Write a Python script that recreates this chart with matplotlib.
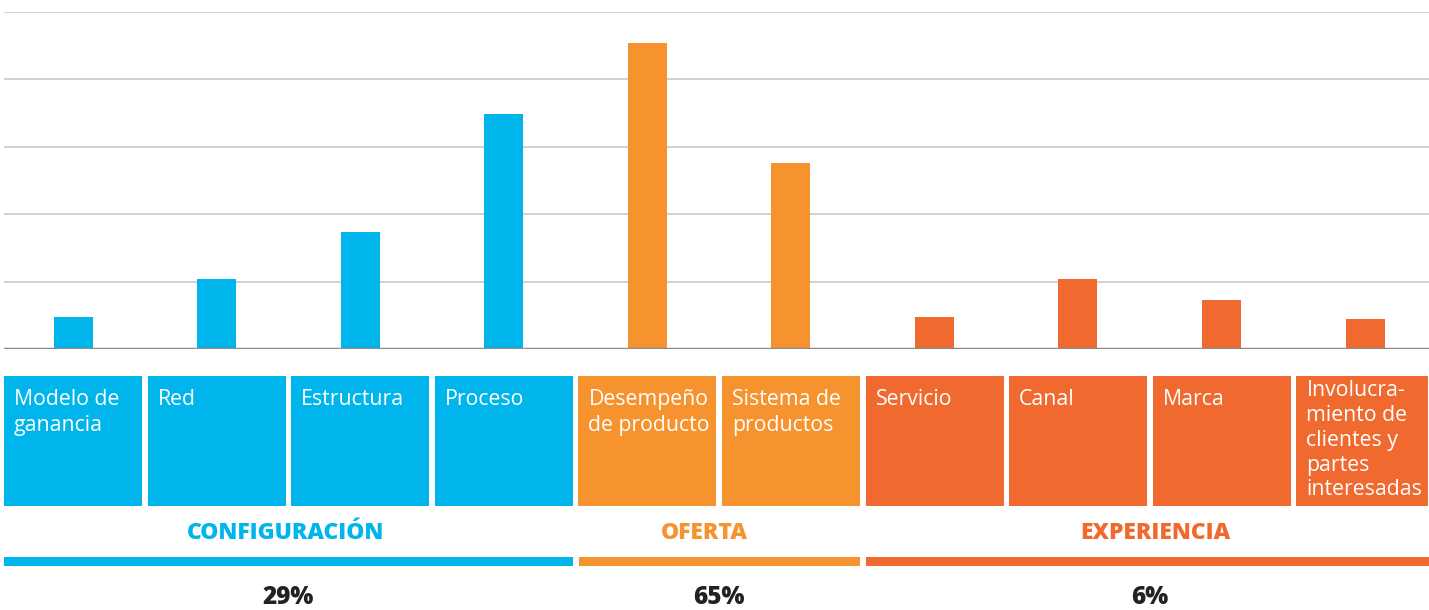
import matplotlib.pyplot as plt
from matplotlib.patches import Rectangle

plt.rcParams['font.family'] = ['Open Sans', 'DejaVu Sans']

# Data
categories = ['Modelo de\nganancia', 'Red', 'Estructura', 'Proceso',
              'Desempeño\nde producto', 'Sistema de\nproductos',
              'Servicio', 'Canal', 'Marca',
              'Involucra-\nmiento de\nclientes y\npartes\ninteresadas']
values = [2.4, 5.2, 8.7, 17.4, 22.7, 13.8, 2.4, 5.2, 3.6, 2.2]
group_of = [0, 0, 0, 0, 1, 1, 2, 2, 2, 2]
groups = ['CONFIGURACIÓN', 'OFERTA', 'EXPERIENCIA']
group_share = ['29%', '65%', '6%']
colors = ['#00B5EC', '#F6932F', '#F06A2F']

W, H = 1429, 610
fig = plt.figure(figsize=(W / 100, H / 100), dpi=100)

# Bar chart part
ax = fig.add_axes([4 / W, (H - 349) / H, (W - 4) / W, (349 - 12) / H])
step = (1365 - 73) / 9
ax.set_xlim(-(73 - 4) / step, 9 + (W - 1365) / step)
ax.set_ylim(0, 25)
xs = list(range(len(values)))
ax.bar(xs, values, width=39 / step, color=[colors[g] for g in group_of], zorder=3)
for y in [5, 10, 15, 20, 25]:
    ax.axhline(y, color='#C9C9C9', lw=1.2, zorder=1)
ax.axhline(0, color='#8A8B8D', lw=2.5, zorder=4)
ax.axis('off')

# Lower panel drawn in pixel coordinates
lo = fig.add_axes([0, 0, 1, 1], zorder=-1)
lo.set_xlim(0, W)
lo.set_ylim(H, 0)
lo.axis('off')

for i, (cat, g) in enumerate(zip(categories, group_of)):
    left = 4 + i * 143.6
    right = min(left + 138, 1428)
    lo.add_patch(Rectangle((left, 376), right - left, 130, color=colors[g], lw=0))
    # the long label is set a little tighter so it fits in the box
    long_label = cat.count('\n') > 2
    lo.text(left + 10, 380 if long_label else 389, cat, color='white', fontsize=15.3,
            va='top', ha='left', linespacing=1.24 if long_label else 1.31)

spans = [(4, 573), (579, 860), (866, 1429)]
label_x = [286, 704, 1155]
share_x = [288, 719, 1150]
for k in range(3):
    a, b = spans[k]
    lo.add_patch(Rectangle((a, 557), b - a, 9, color=colors[k], lw=0))
    lo.text(label_x[k], 533, groups[k], color=colors[k], fontsize=16.5, fontweight='heavy',
            ha='center', va='center')
    lo.text(share_x[k], 598, group_share[k], color='#222222', fontsize=17.5, fontweight='heavy',
            ha='center', va='center')

fig.savefig('out.png', dpi=100)
